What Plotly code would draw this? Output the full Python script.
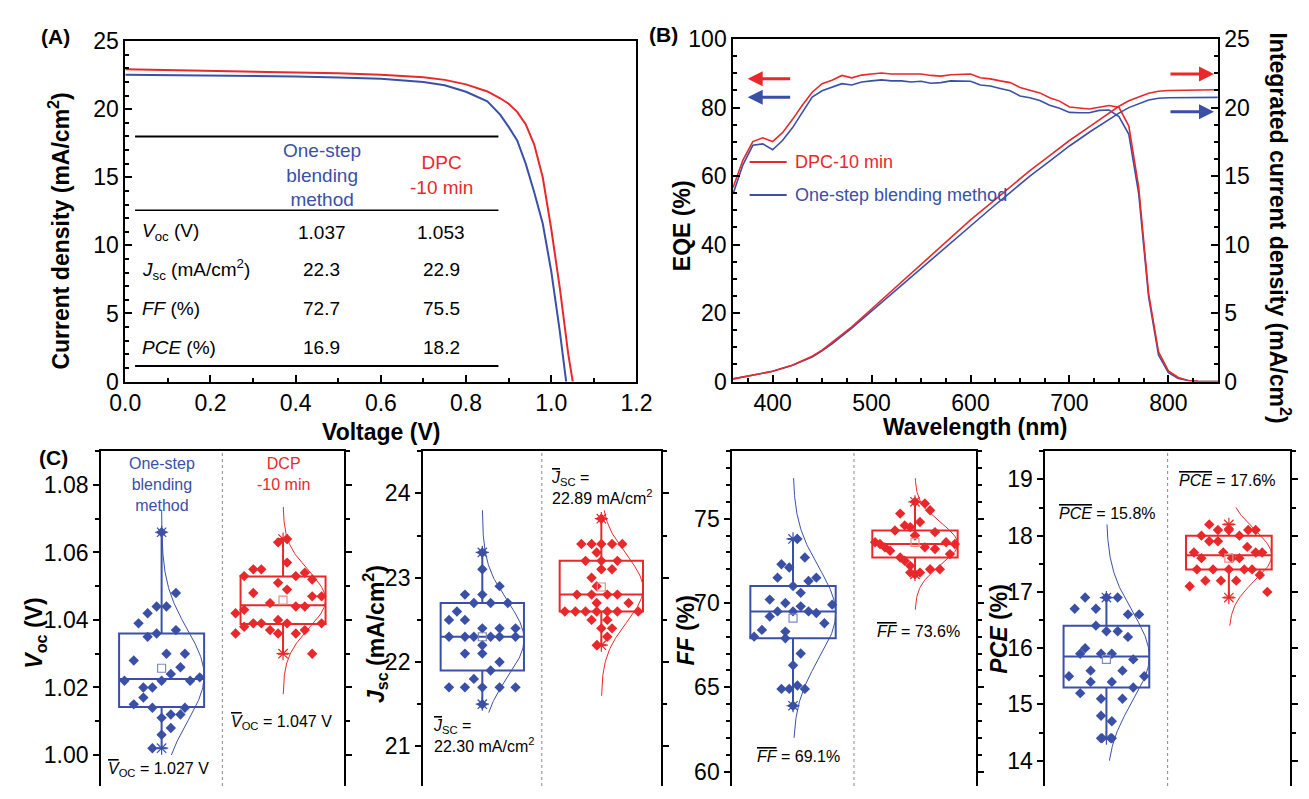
import numpy as np
import plotly.graph_objects as go

W, H = 1309, 799
BLUE = "#3A50A6"
RED = "#E8282B"
BLUE_L = "#8088c0"
RED_L = "#e88a8a"
FONT = "Liberation Sans, Arial, sans-serif"

# ---------------- Panel A : J-V curves ----------------
jv_v_red = [0, 0.1, 0.2, 0.3, 0.4, 0.5, 0.6, 0.7, 0.75, 0.8, 0.85, 0.88, 0.9, 0.92, 0.94, 0.96, 0.98, 1.0, 1.02, 1.04, 1.052]
jv_j_red = [22.93, 22.88, 22.83, 22.78, 22.72, 22.63, 22.52, 22.35, 22.15, 21.82, 21.3, 20.8, 20.4, 19.8, 18.9, 17.4, 15.0, 11.2, 6.9, 2.0, -0.3]
jv_v_blue = [0, 0.1, 0.2, 0.3, 0.4, 0.5, 0.6, 0.7, 0.75, 0.8, 0.85, 0.88, 0.9, 0.92, 0.94, 0.96, 0.98, 1.0, 1.02, 1.035, 1.04]
jv_j_blue = [22.52, 22.5, 22.47, 22.44, 22.4, 22.33, 22.23, 22.0, 21.75, 21.28, 20.57, 19.6, 18.7, 17.7, 16.0, 13.9, 11.6, 8.1, 3.7, 0.0, -1.2]

table_rows = ["<i>V</i><sub>oc</sub> (V)", "<i>J</i><sub>sc</sub> (mA/cm<sup>2</sup>)", "<i>FF</i> (%)", "<i>PCE</i> (%)"]
table_blue = ["1.037", "22.3", "72.7", "16.9"]
table_red = ["1.053", "22.9", "75.5", "18.2"]

# ---------------- Panel B : EQE ----------------
wl = [360, 370, 380, 390, 400, 410, 420, 430, 440, 450, 460, 470, 480, 490, 500, 510, 520, 530, 540, 550,
      560, 570, 580, 590, 600, 610, 620, 630, 640, 650, 660, 670, 680, 690, 700, 710, 720, 730, 740, 750,
      760, 770, 780, 790, 800, 810, 820, 830, 840, 850]
eqe_red = [56.7, 64.7, 70.1, 71.2, 70.1, 72.7, 76.5, 80.7, 84.5, 87.0, 88.0, 89.4, 88.7, 89.5, 89.8, 90.1, 89.8, 89.8, 89.7, 89.8,
           89.4, 89.2, 89.6, 89.7, 89.8, 88.7, 88.4, 87.8, 87.3, 85.9, 85.1, 84.3, 82.9, 81.9, 80.2, 79.9, 79.6, 80.1, 80.6, 80.1,
           74.6, 56.7, 25.7, 8.7, 3.1, 1.2, 0.3, 0.1, 0.0, 0.0]
eqe_blue = [54.8, 63.3, 69.0, 69.4, 67.7, 70.4, 74.1, 78.8, 83.1, 84.9, 85.9, 87.0, 86.6, 87.5, 87.8, 88.1, 87.8, 87.8, 87.5, 87.7,
            87.1, 87.3, 87.8, 87.7, 87.7, 86.6, 86.3, 85.6, 84.9, 83.4, 82.9, 82.1, 80.7, 79.8, 78.6, 78.5, 78.5, 79.2, 79.3, 77.4,
            72.2, 54.8, 24.7, 7.8, 2.6, 0.9, 0.3, 0.1, 0.0, 0.0]
int_wl = [360, 380, 400, 420, 440, 450, 460, 480, 500, 520, 540, 560, 580, 600, 620, 640, 660, 680, 700, 720, 740, 750,
          760, 770, 780, 790, 800, 850]
int_red = [0.2, 0.45, 0.75, 1.2, 1.85, 2.3, 2.85, 4.0, 5.3, 6.6, 7.9, 9.2, 10.5, 11.8, 13.0, 14.2, 15.4, 16.5, 17.6, 18.6, 19.6, 20.1,
           20.5, 20.8, 21.05, 21.2, 21.25, 21.3]
int_blue = [0.2, 0.45, 0.75, 1.2, 1.8, 2.25, 2.75, 3.9, 5.15, 6.4, 7.65, 8.9, 10.15, 11.4, 12.6, 13.8, 15.0, 16.1, 17.2, 18.2, 19.15, 19.6,
            20.0, 20.3, 20.55, 20.68, 20.72, 20.75]

# ---------------- Panel C : statistics ----------------
voc_blue = [1.066, 1.048, 1.044, 1.044, 1.042, 1.039, 1.035, 1.036, 1.037, 1.028, 1.030, 1.030, 1.026, 1.024, 1.022, 1.022, 1.022,
            1.023, 1.020, 1.020, 1.017, 1.015, 1.014, 1.014, 1.011, 1.012, 1.012, 1.008, 1.006, 1.002]
voc_blue_jit = [0, 0.118, -0.041, 0.04, -0.115, -0.19, -0.115, -0.041, 0.118, -0.229, 0.04, 0.192, 0.155, 0.076, -0.306, 0, 0.235,
                0.314, -0.15, -0.076, -0.15, -0.229, -0.076, 0.192, 0, 0.076, 0.155, 0.076, 0, -0.076]
voc_red = [1.063, 1.064, 1.057, 1.053, 1.055, 1.055, 1.053, 1.054, 1.052, 1.051, 1.049, 1.048, 1.047, 1.047, 1.042, 1.043, 1.045,
           1.044, 1.044, 1.036, 1.038, 1.039, 1.039, 1.037, 1.036, 1.039, 1.036, 1.037, 1.039, 1.040, 1.030]
voc_red_jit = [-0.041, 0.033, 0.033, -0.32, -0.245, -0.179, 0.105, 0.179, 0.24, -0.041, 0.033, -0.245, 0.24, 0.317, -0.391, -0.32, -0.107,
               0.105, 0.179, -0.391, -0.32, -0.245, -0.179, -0.107, -0.041, 0.033, 0.105, 0.179, 0.317, -0.041, 0.24]

jsc_blue = [23.3, 23.1, 22.9, 22.8, 22.8, 22.7, 22.7, 22.7, 22.6, 22.5, 22.5, 22.4, 22.4, 22.4, 22.3, 22.3, 22.3, 22.3, 22.3, 22.3,
            22.2, 22.1, 22.1, 22.0, 21.9, 21.8, 21.7, 21.7, 21.7, 21.7, 21.7, 21.5]
jsc_blue_jit = [0, 0, 0.145, -0.146, 0, -0.071, 0.07, 0.214, -0.213, -0.28, -0.146, 0, 0.145, 0.279, -0.28, -0.146, -0.071, 0.07, 0.145, 0.279,
                0, -0.146, 0, 0.145, 0.07, -0.071, -0.28, -0.146, 0, 0.145, 0.279, 0]
jsc_red = [23.7, 23.4, 23.4, 23.4, 23.4, 23.4, 23.3, 23.2, 23.2, 23.2, 23.1, 23.1, 23.0, 22.9, 22.8, 22.8, 22.8, 22.8, 22.7, 22.7,
           22.6, 22.6, 22.6, 22.6, 22.6, 22.6, 22.6, 22.5, 22.5, 22.4, 22.4, 22.3, 22.2]
jsc_red_jit = [0, -0.168, -0.082, 0, 0.09, 0.176, -0.039, -0.133, 0, 0.135, 0, 0.09, -0.082, -0.039, -0.205, -0.082, 0.05, 0.135, -0.039, 0.229,
               -0.307, -0.218, -0.133, -0.039, 0.05, 0.135, 0.31, -0.082, 0.05, 0, 0.09, 0.05, -0.039]

ff_blue = [73.8, 72.7, 72.3, 72.1, 71.5, 71.5, 71.3, 71.0, 70.6, 70.2, 70.0, 69.9, 69.8, 69.5, 69.5, 69.5, 69.4, 69.2, 68.8, 68.4,
           68.3, 68.0, 67.9, 67.0, 66.3, 64.9, 64.9, 65.1, 64.9, 63.9]
ff_blue_jit = [0.036, 0.097, -0.095, -0.031, -0.127, 0.191, 0.127, 0, 0.063, -0.191, -0.063, 0.321, 0.063, -0.127, 0, 0.127, 0.191, -0.191, 0.257, -0.255,
               -0.063, -0.319, -0.063, 0.063, 0, -0.095, -0.031, 0.036, 0.097, 0]
ff_red = [76.0, 75.9, 75.5, 75.3, 74.8, 74.6, 74.5, 74.3, 74.2, 74.0, 73.6, 73.5, 73.6, 73.5, 73.3, 73.1, 73.3, 73.2, 72.9, 72.7,
          72.5, 72.2, 71.8, 71.7, 71.8, 72.0, 72.0]
ff_red_jit = [0, 0.081, 0.124, -0.121, 0.041, -0.084, -0.039, -0.164, 0.164, 0, -0.327, -0.287, 0.255, 0.327, -0.247, -0.204, 0.081, 0.164, 0.287, -0.121,
              -0.084, -0.039, -0.039, 0, 0.041, 0.124, 0.204]

pce_blue = [16.9, 16.9, 16.9, 16.7, 16.7, 16.6, 16.6, 16.4, 16.3, 16.3, 16.2, 16.0, 15.9, 15.9, 15.9, 15.8, 15.6, 15.6, 15.5, 15.5,
            15.4, 15.4, 15.3, 15.2, 15.1, 15.1, 14.8, 14.7, 14.4, 14.4]
pce_blue_jit = [-0.174, 0, 0.092, -0.259, -0.086, 0.176, 0.267, -0.086, 0, 0.092, 0.176, -0.174, -0.214, -0.044, 0.044, 0.219, -0.129, 0.131, -0.306, 0.309,
                -0.129, 0.044, 0.219, -0.214, -0.044, 0.131, -0.044, 0.044, -0.044, 0.044]
pce_red = [18.2, 18.1, 18.1, 18.1, 18.1, 18.0, 18.0, 17.9, 17.9, 17.8, 17.7, 17.7, 17.7, 17.7, 17.6, 17.6, 17.6, 17.4, 17.4, 17.4,
           17.4, 17.4, 17.3, 17.2, 17.2, 17.2, 17.1, 17.0]
pce_red_jit = [-0.16, -0.089, 0, 0.158, 0.219, -0.224, 0.086, -0.16, -0.089, 0.15, -0.285, -0.046, 0.219, 0.272, -0.224, 0.025, 0.086, -0.261, -0.129, 0,
               0.126, 0.19, 0.253, -0.192, -0.065, 0.06, -0.32, 0.314]

# box statistics: q1, median, q3, lower whisker, upper whisker, mean
box_stats = {
    "voc": {"blue": [1.0142, 1.0225, 1.036, 1.002, 1.066, 1.0257], "red": [1.0388, 1.0444, 1.0529, 1.030, 1.064, 1.0459]},
    "jsc": {"blue": [21.9, 22.3, 22.7, 21.5, 23.3, 22.30], "red": [22.6, 22.8, 23.2, 22.2, 23.7, 22.89]},
    "ff": {"blue": [67.9, 69.5, 71.0, 63.9, 73.8, 69.1], "red": [72.7, 73.5, 74.3, 71.7, 76.0, 73.6]},
    "pce": {"blue": [15.3, 15.85, 16.4, 14.4, 16.9, 15.8], "red": [17.4, 17.65, 18.0, 16.9, 18.2, 17.6]},
}
# normal-distribution fit: mu, sigma, y-start, y-end
fits = {
    "voc": {"blue": [1.0235, 0.0137, 1.000, 1.0725], "red": [1.046, 0.0085, 1.018, 1.0735]},
    "jsc": {"blue": [22.27, 0.45, 21.4, 23.8], "red": [22.87, 0.40, 21.6, 23.8]},
    "ff": {"blue": [69.4, 2.7, 62.0, 77.4], "red": [73.5, 1.25, 69.6, 77.4]},
    "pce": {"blue": [15.85, 0.8, 14.0, 18.2], "red": [17.65, 0.45, 16.4, 18.5]},
}


def px(x):
    return x / W


def py(y):
    return 1 - y / H


fig = go.Figure()

# ---- Panel A traces
fig.add_trace(go.Scatter(x=jv_v_blue, y=jv_j_blue, mode="lines", line=dict(color=BLUE, width=2), xaxis="x", yaxis="y"))
fig.add_trace(go.Scatter(x=jv_v_red, y=jv_j_red, mode="lines", line=dict(color=RED, width=2), xaxis="x", yaxis="y"))

# ---- Panel B traces
fig.add_trace(go.Scatter(x=wl, y=eqe_blue, mode="lines", line=dict(color=BLUE, width=1.6), xaxis="x2", yaxis="y2"))
fig.add_trace(go.Scatter(x=wl, y=eqe_red, mode="lines", line=dict(color=RED, width=1.6), xaxis="x2", yaxis="y2"))
fig.add_trace(go.Scatter(x=int_wl, y=int_blue, mode="lines", line=dict(color=BLUE, width=1.6), xaxis="x2", yaxis="y3"))
fig.add_trace(go.Scatter(x=int_wl, y=int_red, mode="lines", line=dict(color=RED, width=1.6), xaxis="x2", yaxis="y3"))

# ---- Panel C traces
c_data = [
    ("voc", voc_blue, voc_blue_jit, voc_red, voc_red_jit),
    ("jsc", jsc_blue, jsc_blue_jit, jsc_red, jsc_red_jit),
    ("ff", ff_blue, ff_blue_jit, ff_red, ff_red_jit),
    ("pce", pce_blue, pce_blue_jit, pce_red, pce_red_jit),
]
AMP = 0.35
for i, (key, bv, bj, rv, rj) in enumerate(c_data):
    xa, ya = f"x{3 + i}", f"y{4 + i}"
    for grp, vals, jit, center, col, col_l in [("blue", bv, bj, 0.5, BLUE, BLUE_L), ("red", rv, rj, 1.5, RED, RED_L)]:
        mu, sd, ylo, yhi = fits[key][grp]
        yy = np.linspace(ylo, yhi, 150)
        xx = center + AMP * np.exp(-0.5 * ((yy - mu) / sd) ** 2)
        fig.add_trace(go.Scatter(x=xx, y=yy, mode="lines", line=dict(color=col, width=1), xaxis=xa, yaxis=ya))
        q1, med, q3, lo, hi, mean = box_stats[key][grp]
        fig.add_trace(go.Box(x=[center], q1=[q1], median=[med], q3=[q3], lowerfence=[lo], upperfence=[hi],
                             width=0.7, whiskerwidth=0.12, boxpoints=False,
                             line=dict(color=col, width=2), fillcolor="rgba(0,0,0,0)",
                             xaxis=xa, yaxis=ya, hoverinfo="skip"))
        fig.add_trace(go.Scatter(x=[center + j for j in jit], y=vals, mode="markers",
                                 marker=dict(symbol="diamond", size=8, color=col, line=dict(width=0)),
                                 xaxis=xa, yaxis=ya))
        fig.add_trace(go.Scatter(x=[center], y=[mean], mode="markers",
                                 marker=dict(symbol="square-open", size=8, color=col_l, line=dict(width=1.2)),
                                 xaxis=xa, yaxis=ya))
        fig.add_trace(go.Scatter(x=[center, center], y=[lo, hi], mode="markers",
                                 marker=dict(symbol="asterisk-open", size=11, color=col, line=dict(width=1.2, color=col)),
                                 xaxis=xa, yaxis=ya))

axis_common = dict(showgrid=False, zeroline=False, linecolor="black", linewidth=1.5, tickcolor="black",
                   tickwidth=1.5, tickfont=dict(size=23, color="black", family=FONT))

layout = dict(
    width=W, height=H, margin=dict(l=0, r=0, t=0, b=0), showlegend=False,
    plot_bgcolor="white", paper_bgcolor="white", font=dict(family=FONT, color="black"),
    # Panel A
    xaxis=dict(domain=[px(112), px(636)], range=[0, 1.2], anchor="y", dtick=0.2, tick0=0, tickformat=".1f",
               ticks="inside", ticklen=7, showline=True, mirror=True,
               minor=dict(dtick=0.1, ticks="inside", ticklen=4, tickcolor="black"), **axis_common),
    yaxis=dict(domain=[py(381), py(29)], range=[0, 25], anchor="x", dtick=5, ticks="inside", ticklen=7,
               showline=True, mirror=True, minor=dict(dtick=1, ticks="inside", ticklen=4, tickcolor="black"), **axis_common),
    # Panel B
    xaxis2=dict(domain=[px(735), px(1232)], range=[360, 850], anchor="y2", dtick=100, tick0=0, ticks="inside",
                ticklen=7, showline=True, mirror=True,
                minor=dict(dtick=25, ticks="inside", ticklen=4, tickcolor="black"), **axis_common),
    yaxis2=dict(domain=[py(381), py(27)], range=[0, 100], anchor="x2", dtick=20, ticks="inside", ticklen=7,
                showline=True, minor=dict(dtick=5, ticks="inside", ticklen=4, tickcolor="black"), **axis_common),
    yaxis3=dict(range=[0, 25], overlaying="y2", side="right", anchor="x2", dtick=5, ticks="inside", ticklen=7,
                showline=True, minor=dict(dtick=1.25, ticks="inside", ticklen=4, tickcolor="black"), **axis_common),
)

c_dom = [(87, 336), (417, 661), (734, 984), (1055, 1306)]
c_range = [[0.9908, 1.090], [20.53, 24.5], [59.14, 79.0], [13.55, 19.5]]
c_dtick = [0.02, 1, 5, 1]
c_minor = [0.01, 0.5, 1, 0.5]
c_fmt = [".2f", "d", "d", "d"]
for i in range(4):
    layout[f"xaxis{3 + i}"] = dict(domain=[px(c_dom[i][0]), px(c_dom[i][1])], range=[0, 2], anchor=f"y{4 + i}",
                                   type="linear", side="top", showline=True, mirror=False, ticks="",
                                   showticklabels=False, showgrid=False, zeroline=False, linecolor="black", linewidth=1.5)
    layout[f"yaxis{4 + i}"] = dict(domain=[0, py(453)], range=c_range[i], anchor=f"x{3 + i}", dtick=c_dtick[i],
                                   tickformat=c_fmt[i], ticks="outside", ticklen=6, showline=True, mirror="ticks",
                                   minor=dict(dtick=c_minor[i], ticks="outside", ticklen=4, tickcolor="black"),
                                   **axis_common)
fig.update_layout(**layout)

ann = []
shapes = []


def txt(x, y, text, size=18, color="black", xanchor="center", yanchor="middle", xref="paper", yref="paper", angle=0, align="center"):
    ann.append(dict(x=x, y=y, text=text, showarrow=False, xref=xref, yref=yref, xanchor=xanchor, yanchor=yanchor,
                    textangle=angle, align=align, font=dict(size=size, color=color, family=FONT)))


# panel labels
txt(px(41), py(24), "<b>(A)</b>", size=21)
txt(px(664), py(22), "<b>(B)</b>", size=21)
txt(px(38), py(459), "<b>(C)</b>", size=21)

# axis titles
txt(px(44), py(225), "<b>Current density (mA/cm<sup>2</sup>)</b>", size=23, angle=-90)
txt(px(374), py(433), "<b>Voltage (V)</b>", size=23)
txt(px(683), py(220), "<b>EQE (%)</b>", size=23, angle=-90)
txt(px(983), py(428), "<b>Wavelength (nm)</b>", size=23)
txt(px(1296), py(222), "<b>Integrated current density (mA/cm<sup>2</sup>)</b>", size=23, angle=90)
txt(px(20), py(641), "<b><i>V</i><sub>oc</sub> (V)</b>", size=23, angle=-90)
txt(px(368), py(642), "<b><i>J</i><sub>sc</sub> (mA/cm<sup>2</sup>)</b>", size=23, angle=-90)
txt(px(687), py(638), "<b><i>FF</i> (%)</b>", size=23, angle=-90)
txt(px(1008), py(637), "<b><i>PCE</i> (%)</b>", size=23, angle=-90)

# Panel A table
for yv, w in [(17.99, 2), (12.58, 1.5), (1.14, 2)]:
    shapes.append(dict(type="line", xref="x", yref="y", x0=0.023, x1=0.876, y0=yv, y1=yv, line=dict(color="black", width=w)))
txt(0.461, 15.17, "One-step<br>blending<br>method", size=19, color=BLUE, xref="x", yref="y")
txt(0.742, 15.19, "DPC<br>-10 min", size=19, color=RED, xref="x", yref="y")
for r, (lab, bv, rv) in enumerate(zip(table_rows, table_blue, table_red)):
    yv = [10.97, 8.2, 5.36, 2.51][r]
    txt(0.035, yv, lab, size=19, xref="x", yref="y", xanchor="left")
    txt(0.461, yv, bv, size=19, xref="x", yref="y")
    txt(0.742, yv, rv, size=19, xref="x", yref="y")

# Panel B legend
for yy, col, lab in [(154, RED, "DPC-10 min"), (188, BLUE, "One-step blending method")]:
    shapes.append(dict(type="line", xref="paper", yref="paper", x0=px(752), x1=px(790), y0=py(yy), y1=py(yy),
                       line=dict(color=col, width=2)))
    txt(px(796), py(yy), lab, size=18, color=col, xanchor="left")

# Panel B arrows
for head, tail, yy, col in [(750, 794, 68, RED), (750, 794, 87, BLUE), (1228, 1183, 63, RED), (1228, 1183, 102, BLUE)]:
    ann.append(dict(x=px(head), y=py(yy), xref="paper", yref="paper", text="", showarrow=True,
                    ax=tail - head, ay=0, arrowhead=2, arrowsize=1, arrowwidth=3, arrowcolor=col))

# Panel C texts
OV = '<span style="text-decoration:overline">{}</span>'
txt(0.5, py(487), "One-step<br>blending<br>method", size=16, color=BLUE, xref="x3")
txt(1.5, py(477), "DCP<br>-10 min", size=16, color=RED, xref="x3")
txt(0.477, py(782), OV.format("<i>V</i>") + "<sub>OC</sub> = 1.027 V", size=16, xref="x3")
txt(1.485, py(733), OV.format("<i>V</i>") + "<sub>OC</sub> = 1.047 V", size=16, xref="x3")
txt(0.072, py(747), OV.format("<i>J</i>") + "<sub>SC</sub> =<br>22.30 mA/cm<sup>2</sup>", size=16, xref="x4", xanchor="left", align="left")
txt(1.064, py(491), OV.format("<i>J</i>") + "<sub>SC</sub> =<br>22.89 mA/cm<sup>2</sup>", size=16, xref="x4", xanchor="left", align="left")
txt(0.541, py(768), OV.format("<i>FF</i>") + " = 69.1%", size=16, xref="x5")
txt(1.528, py(639), OV.format("<i>FF</i>") + " = 73.6%", size=16, xref="x5")
txt(0.512, py(517), OV.format("<i>PCE</i>") + " = 15.8%", size=16, xref="x6")
txt(1.485, py(483), OV.format("<i>PCE</i>") + " = 17.6%", size=16, xref="x6")

# dotted dividers in panel C
for i in range(4):
    shapes.append(dict(type="line", xref=f"x{3 + i}", yref=f"y{4 + i} domain", x0=1, x1=1, y0=0, y1=1,
                       line=dict(color="#888888", width=1, dash="dot")))

fig.update_layout(annotations=ann, shapes=shapes)
fig.write_html("out.html", config={"displayModeBar": False},
               post_script="document.body.style.margin='0px';document.body.style.overflow='hidden';")
